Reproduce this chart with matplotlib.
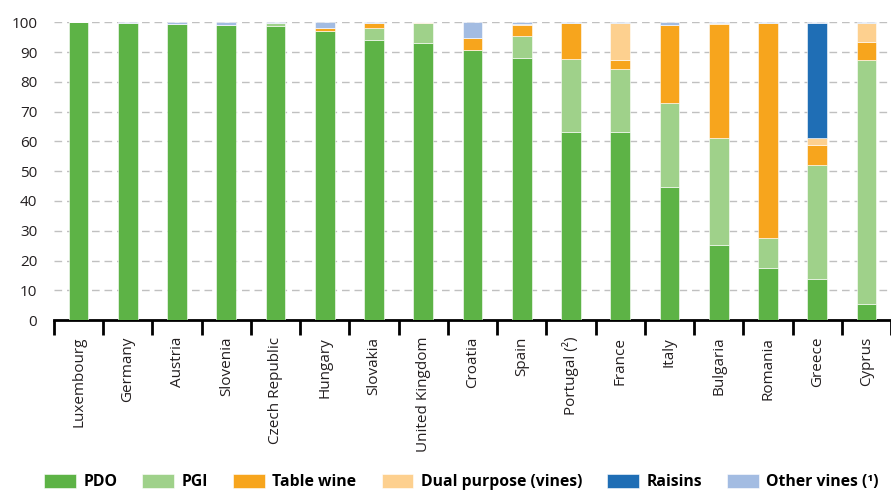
import numpy as np
import matplotlib
matplotlib.use("Agg")
import matplotlib.pyplot as plt

countries = ["Luxembourg", "Germany", "Austria", "Slovenia", "Czech Republic", "Hungary",
             "Slovakia", "United Kingdom", "Croatia", "Spain", "Portugal (²)", "France",
             "Italy", "Bulgaria", "Romania", "Greece", "Cyprus"]

pdo = [100.0, 99.9, 99.4, 99.1, 98.9, 97.1, 94.2, 92.9, 90.8, 88.1, 63.3, 63.1, 44.6, 25.1, 17.4, 13.7, 5.3]
pgi = [0.0, 0.0, 0.0, 0.0, 0.8, 0.0, 3.9, 6.8, 0.0, 7.4, 24.4, 21.2, 28.2, 35.9, 10.2, 38.5, 81.9]
table_wine = [0.0, 0.0, 0.0, 0.0, 0.0, 1.0, 1.5, 0.0, 3.8, 3.7, 12.2, 3.0, 26.3, 38.4, 72.1, 6.5, 6.2]
dual_purpose = [0.0, 0.0, 0.0, 0.0, 0.0, 0.0, 0.0, 0.3, 0.0, 0.2, 0.0, 12.4, 0.0, 0.3, 0.0, 2.4, 6.3]
raisins = [0.0, 0.0, 0.0, 0.0, 0.0, 0.0, 0.0, 0.0, 0.0, 0.0, 0.0, 0.0, 0.0, 0.0, 0.0, 38.5, 0.0]
other_vines = [0.0, 0.1, 0.6, 0.9, 0.3, 1.9, 0.4, 0.0, 5.4, 0.6, 0.1, 0.3, 0.9, 0.3, 0.3, 0.4, 0.3]

series = [
    ("PDO", pdo, "#5db346"),
    ("PGI", pgi, "#9fd18a"),
    ("Table wine", table_wine, "#f7a51d"),
    ("Dual purpose (vines)", dual_purpose, "#fdd08f"),
    ("Raisins", raisins, "#1f6eb5"),
    ("Other vines (¹)", other_vines, "#a3bce2"),
]

plt.rcParams['font.family'] = ['Open Sans', 'DejaVu Sans']

fig = plt.figure(figsize=(8.91, 4.94), dpi=100)
ax = fig.add_axes([0.0606, 0.352, 0.9394, 0.603])

x = np.arange(len(countries))
bottom = np.zeros(len(countries))
for name, vals, col in series:
    vals = np.array(vals)
    ax.bar(x, vals, width=0.4, bottom=bottom, color=col, label=name,
           edgecolor="white", linewidth=0.4, zorder=3)
    bottom += vals

ax.set_xlim(-0.5, len(countries) - 0.5)
ax.set_ylim(0, 100)
ax.set_yticks(range(0, 101, 10))
ax.yaxis.grid(True, color="#c0c0c0", linestyle=(0, (5.5, 3.5)), linewidth=1.0, zorder=0)
ax.tick_params(axis="y", length=0, labelsize=11, pad=12, labelcolor="#231f20")

for s in ["left", "right", "top"]:
    ax.spines[s].set_visible(False)
ax.spines["bottom"].set_linewidth(2.0)
ax.spines["bottom"].set_color("black")

# ticks on the boundaries between countries
ax.set_xticks(np.arange(-0.5, len(countries), 1.0))
ax.set_xticklabels([])
ax.tick_params(axis="x", which="major", length=11, width=2.0, color="black")
ax.set_xticks(x, minor=True)
ax.set_xticklabels(countries, minor=True, rotation=90, fontsize=11, color="#231f20")
ax.tick_params(axis="x", which="minor", length=0, pad=12)

fig.legend(loc="center", bbox_to_anchor=(0.518, 0.024), ncol=6, frameon=False,
           prop={'weight': 'bold', 'size': 11.3}, borderpad=0,
           handlelength=2.0, handleheight=1.0, handletextpad=0.5, columnspacing=1.6)

fig.savefig("out.png", dpi=100)
